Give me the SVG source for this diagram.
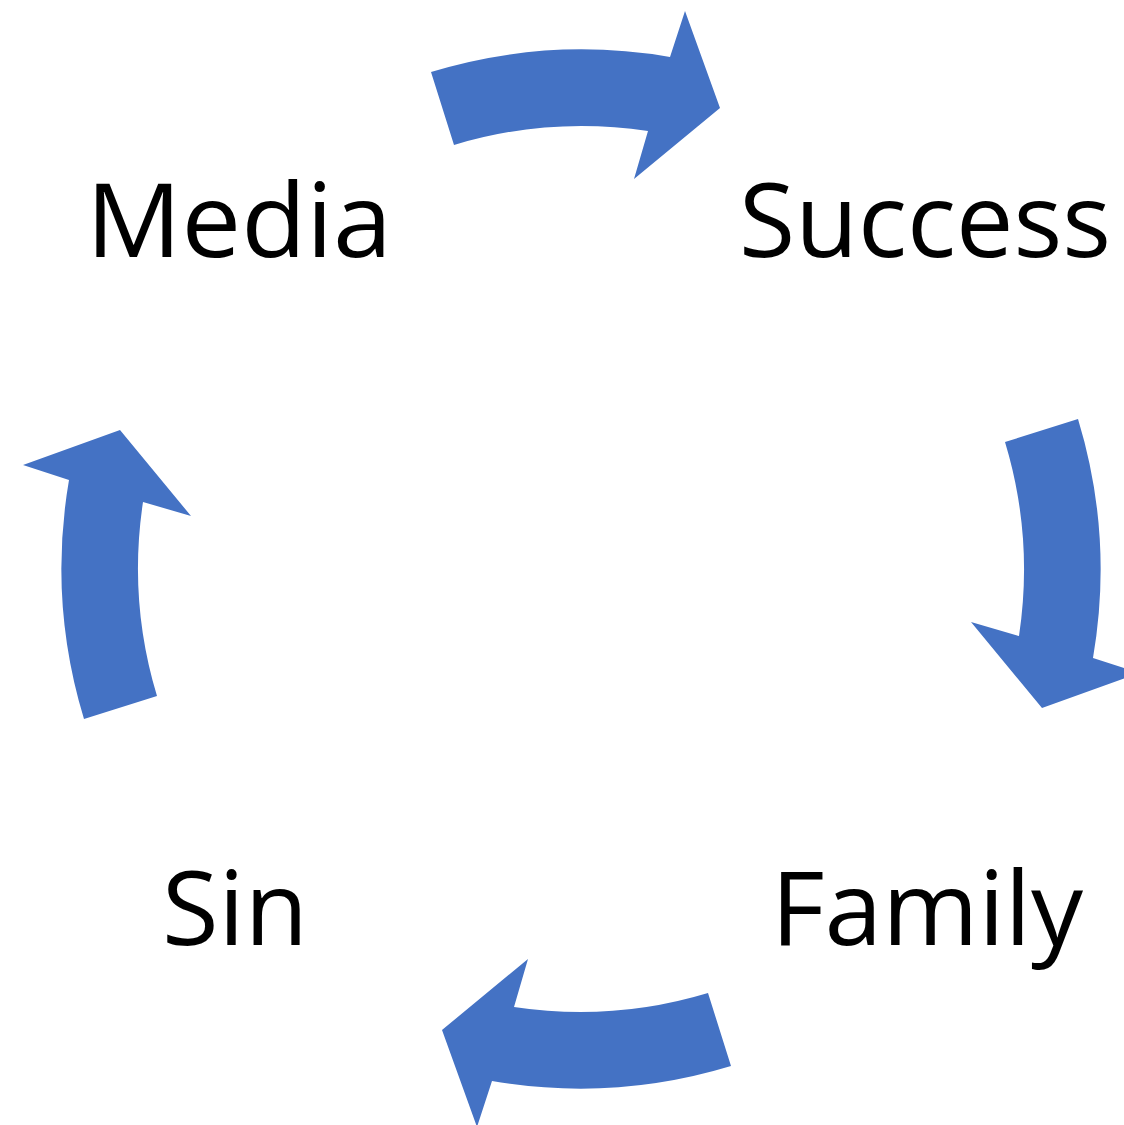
<svg xmlns="http://www.w3.org/2000/svg" width="1124" height="1125" viewBox="0 0 1124 1125">
<style>
.arrow{fill:#4472C4;stroke:none}
.lbl{font-family:"Open Sans","Noto Sans","Liberation Sans",sans-serif;font-size:103px;fill:#000}
</style>
<defs>
<path id="arc" class="arrow" d="M431,72 A519,519 0 0 1 670,57 L685,11 L720,108 L634,179 L648,131 A442,442 0 0 0 454,145 Z"/>
</defs>
<rect width="1124" height="1125" fill="#fff"/>
<g id="connectors">
<use href="#arc"/>
<use href="#arc" transform="rotate(90 581 569)"/>
<use href="#arc" transform="rotate(180 581 569)"/>
<use href="#arc" transform="rotate(270 581 569)"/>
</g>
<g id="media"><text class="lbl" x="86" y="257" textLength="306" lengthAdjust="spacingAndGlyphs">Media</text></g>
<g id="success"><text class="lbl" x="739" y="257" textLength="372" lengthAdjust="spacingAndGlyphs">Success</text></g>
<g id="family"><text class="lbl" x="771" y="945" textLength="312" lengthAdjust="spacingAndGlyphs">Family</text></g>
<g id="sin"><text class="lbl" x="162" y="945" textLength="146" lengthAdjust="spacingAndGlyphs">Sin</text></g>
</svg>
